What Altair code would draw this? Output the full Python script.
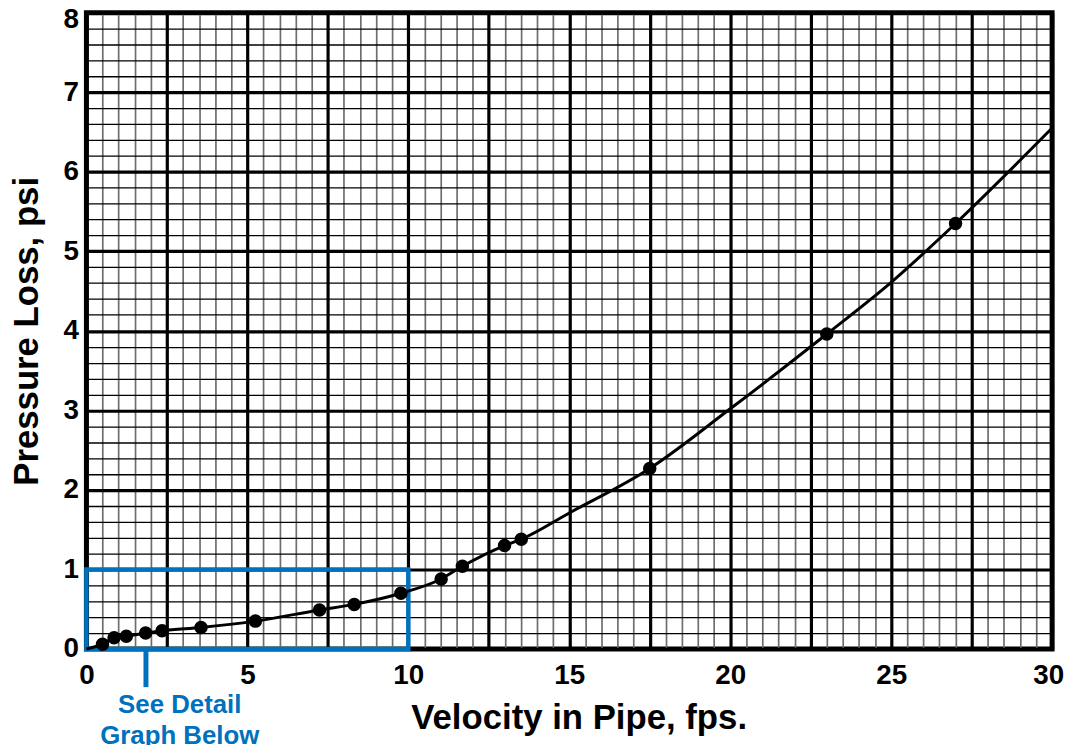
import altair as alt
import pandas as pd

# measured points (velocity fps, pressure loss psi)
pt_v = [0.5, 0.86, 1.24, 1.84, 2.35, 3.56, 5.25, 7.24, 8.32, 9.77, 11.02, 11.68, 12.99, 13.51, 17.5, 23.0, 27.0]
pt_p = [0.06, 0.14, 0.16, 0.20, 0.23, 0.27, 0.35, 0.49, 0.56, 0.70, 0.88, 1.04, 1.30, 1.38, 2.27, 3.96, 5.35]

# fitted curve
cv_v = [0, 0.5, 0.86, 1.24, 1.84, 2.35, 3.56, 5.25, 7.24, 8.32, 9.77, 11.02, 11.68, 12.99, 13.51, 15.0, 17.5, 20.0, 23.0, 25.0, 27.0, 30.0]
cv_p = [0, 0.06, 0.14, 0.16, 0.20, 0.23, 0.27, 0.35, 0.49, 0.56, 0.70, 0.88, 1.04, 1.30, 1.38, 1.71, 2.27, 3.02, 3.96, 4.61, 5.35, 6.55]

# detail box and callout
box_v = [0, 10]
box_p = [0, 1]
callout_v = 1.85
callout_p = [0, -0.48]
note_v = 2.9
note_lines = ["See Detail", "Graph Below"]

x_ticks = [i * 0.5 for i in range(61)]
y_ticks = [round(i * 0.2, 1) for i in range(41)]

FONT = "Liberation Sans"
BLUE = "#0071bc"

xscale = alt.Scale(domain=[0, 30], nice=False, zero=False)
yscale = alt.Scale(domain=[0, 8], nice=False, zero=False)

xaxis = alt.Axis(
    values=x_ticks,
    grid=True,
    gridColor={"condition": {"test": "datum.value % 2.5 === 0", "value": "#000000"}, "value": "#6e6e6e"},
    gridWidth={"condition": {"test": "datum.value % 2.5 === 0", "value": 3.2}, "value": 1.7},
    gridOpacity=1,
    labelExpr="datum.value % 5 === 0 ? format(datum.value, 'd') : ''",
    labelOffset={"condition": {"test": "datum.value > 29.9", "value": -4}, "value": 0},
    labelOverlap=False,
    labelFlush=False,
    labelFont=FONT,
    labelFontSize=28,
    labelFontWeight="bold",
    labelColor="#000000",
    labelPadding=13,
    ticks=False,
    domain=False,
    title="Velocity in Pipe, fps.",
    titleFont=FONT,
    titleFontSize=35,
    titleFontWeight="bold",
    titleColor="#000000",
    titleX=496,
    titleY=80,
    titleBaseline="alphabetic",
)

yaxis = alt.Axis(
    values=y_ticks,
    grid=True,
    gridColor="#000000",
    gridWidth={"condition": {"test": "abs(datum.value - round(datum.value)) < 0.001", "value": 3.2}, "value": 1.3},
    gridOpacity=1,
    labelExpr="abs(datum.value - round(datum.value)) < 0.001 ? format(datum.value, 'd') : ''",
    labelOffset={"condition": {"test": "datum.value > 7.9", "value": 7}, "value": 0},
    labelOverlap=False,
    labelFlush=False,
    labelFont=FONT,
    labelFontSize=28,
    labelFontWeight="bold",
    labelColor="#000000",
    labelPadding=8,
    ticks=False,
    domain=False,
    title="Pressure Loss, psi",
    titleFont=FONT,
    titleFontSize=35,
    titleFontWeight="bold",
    titleColor="#000000",
    titleX=-49,
    titleBaseline="alphabetic",
)


def X(field):
    return alt.X(field, type="quantitative", scale=xscale, axis=xaxis)


def Y(field):
    return alt.Y(field, type="quantitative", scale=yscale, axis=yaxis)


curve_df = pd.DataFrame({"v": cv_v, "p": cv_p})
pts_df = pd.DataFrame({"v": pt_v, "p": pt_p})
box_df = pd.DataFrame({"v": [box_v[0]], "v2": [box_v[1]], "p": [box_p[0]], "p2": [box_p[1]]})
rule_df = pd.DataFrame({"v": [callout_v], "p": [callout_p[0]], "p2": [callout_p[1]]})
note_df = pd.DataFrame({"v": [note_v], "p": [0.0], "t": [note_lines]})

curve = alt.Chart(curve_df).mark_line(
    color="#000000", strokeWidth=3, interpolate="monotone"
).encode(x=X("v"), y=Y("p"))

points = alt.Chart(pts_df).mark_circle(
    color="#000000", opacity=1, size=185
).encode(x=X("v"), y=Y("p"))

box = alt.Chart(box_df).mark_rect(
    fill=None, fillOpacity=0, stroke=BLUE, strokeWidth=4.5
).encode(x=X("v"), x2="v2", y=Y("p"), y2="p2")

rule = alt.Chart(rule_df).mark_rule(color=BLUE, strokeWidth=5).encode(
    x=X("v"), y=Y("p"), y2="p2"
)

note = alt.Chart(note_df).mark_text(
    color=BLUE, font=FONT, fontSize=26, fontWeight="bold",
    align="center", baseline="alphabetic", dy=65, lineHeight=31
).encode(x=X("v"), y=Y("p"), text="t")

chart = alt.layer(box, curve, points, rule, note).properties(
    width=973,
    height=641,
    autosize=alt.AutoSizeParams(type="none"),
    padding={"left": 79, "top": 2, "right": 14, "bottom": 94},
    background="#ffffff",
).configure_view(stroke="#000000", strokeWidth=5)

chart.save("out.html", embed_options={"renderer": "svg", "actions": False})
